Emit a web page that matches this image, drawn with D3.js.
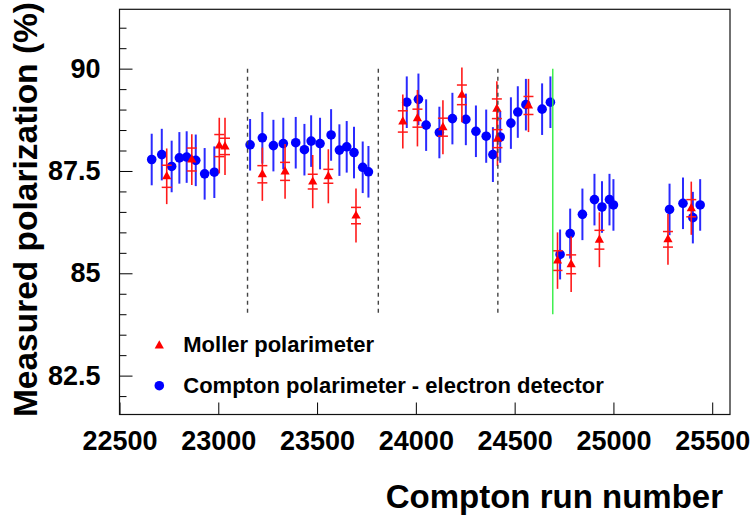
<!DOCTYPE html>
<html>
<head>
<meta charset="utf-8">
<script src="https://cdn.jsdelivr.net/npm/d3@7"></script>
<style>
  html, body { margin: 0; padding: 0; background: #fff; }
  svg { display: block; }
  text { font-family: "Liberation Sans", Arial, Helvetica, sans-serif; font-weight: bold; fill: #000; }
</style>
</head>
<body>
<svg id="chart" width="752" height="515"></svg>
<script>
// Compton polarimeter (electron detector) measurements
const comptonRuns = [22663, 22714, 22764, 22803, 22840, 22886, 22931, 22980,
  23161, 23223, 23279, 23329, 23392, 23436, 23470, 23515, 23571, 23613, 23650, 23687, 23731, 23760,
  23954, 24013, 24052, 24119, 24185, 24253, 24304, 24356, 24390, 24427, 24481, 24516, 24557, 24639, 24681,
  24730, 24781, 24843, 24904, 24942, 24980, 25000,
  25284, 25352, 25402, 25439];
const comptonPol = [87.78, 87.90, 87.61, 87.82, 87.84, 87.76, 87.43, 87.47,
  88.14, 88.31, 88.12, 88.17, 88.19, 88.02, 88.23, 88.17, 88.38, 88.01, 88.09, 87.95, 87.59, 87.48,
  89.18, 89.25, 88.62, 88.44, 88.78, 88.76, 88.47, 88.35, 87.90, 88.33, 88.67, 88.94, 89.12, 89.01, 89.18,
  85.46, 85.97, 86.44, 86.80, 86.62, 86.80, 86.67,
  86.56, 86.71, 86.36, 86.67];
const comptonErr = [0.63, 0.63, 0.63, 0.63, 0.63, 0.63, 0.63, 0.63,
  0.63, 0.63, 0.63, 0.63, 0.63, 0.63, 0.63, 0.63, 0.63, 0.63, 0.63, 0.63, 0.63, 0.63,
  0.63, 0.63, 0.63, 0.63, 0.63, 0.63, 0.63, 0.65, 0.67, 0.63, 0.63, 0.63, 0.63, 0.63, 0.63,
  0.61, 0.61, 0.63, 0.63, 0.63, 0.63, 0.63,
  0.63, 0.63, 0.63, 0.63];

// Moller polarimeter measurements: total and statistical errors
const mollerRuns = [22739, 22866, 23005, 23034,
  23223, 23338, 23478, 23557, 23697,
  23934, 24008, 24137, 24233, 24410, 24413, 24570,
  24717, 24786, 24929,
  25276, 25394];
const mollerPol = [87.37, 87.78, 88.12, 88.10,
  87.42, 87.49, 87.24, 87.37, 86.41,
  88.71, 88.79, 88.57, 89.36, 89.02, 88.29, 89.10,
  85.31, 85.22, 85.82,
  85.83, 86.59];
const mollerErrTot = [0.68, 0.62, 0.68, 0.70,
  0.65, 0.67, 0.65, 0.66, 0.66,
  0.66, 0.69, 0.66, 0.67, 0.67, 0.67, 0.65,
  0.69, 0.68, 0.67,
  0.62, 0.65];
const mollerErrStat = [0.27, 0.28, 0.27, 0.20,
  0.21, 0.22, 0.18, 0.17, 0.20,
  0.26, 0.22, 0.22, 0.24, 0.24, 0.22, 0.22,
  0.24, 0.23, 0.23,
  0.19, 0.21];

// Run-period boundaries and the vertical span they cover
const boundaryRuns = [23148, 23810, 24415];
const markerRun = [24693];
const boundarySpan = [84.0, 90.0];

const xTicks = [22500, 23000, 23500, 24000, 24500, 25000, 25500];
const yTicks = [82.5, 85, 87.5, 90];
const yMinorTicks = [82, 83, 83.5, 84, 84.5, 85.5, 86, 86.5, 87,
  88, 88.5, 89, 89.5, 90.5, 91];

const legendLabels = ["Moller polarimeter", "Compton polarimeter - electron detector"];
const xTitle = "Compton run number";
const yTitle = "Measured polarization (%)";

const svg = d3.select("#chart");
const frame = { left: 119.5, right: 730, top: 9.3, bottom: 414.5 };

const x = d3.scaleLinear().domain([22500, 25590]).range([frame.left, frame.right]);
const y = d3.scaleLinear().domain([81.55, 91.45]).range([frame.bottom, frame.top]);

const compton = comptonRuns.map((r, i) => ({ run: r, pol: comptonPol[i], err: comptonErr[i] }));
const moller = mollerRuns.map((r, i) => ({ run: r, pol: mollerPol[i], tot: mollerErrTot[i], stat: mollerErrStat[i] }));

// Axes with inward ticks
const yAxis = d3.axisLeft(y).tickValues(yTicks).tickSize(-13).tickPadding(19)
  .tickFormat(d3.format(""));
const yMinor = d3.axisLeft(y).tickValues(yMinorTicks).tickSize(-7).tickFormat("");
const xAxis = d3.axisBottom(x).tickValues(xTicks).tickSize(-12).tickPadding(16)
  .tickFormat(d3.format("d"));

function styleAxis(g) {
  g.select(".domain").remove();
  g.selectAll(".tick line").attr("stroke", "#000").attr("stroke-width", 1);
  g.selectAll(".tick text").attr("font-size", 27).attr("font-weight", "bold")
    .attr("font-family", "Liberation Sans, Arial, sans-serif").attr("fill", "#000");
}

svg.append("g").attr("transform", `translate(${frame.left},0)`).call(yMinor).call(styleAxis);
svg.append("g").attr("transform", `translate(${frame.left},0)`).call(yAxis).call(styleAxis);
svg.append("g").attr("transform", `translate(0,${frame.bottom})`).call(xAxis).call(styleAxis);

// Frame
svg.append("rect")
  .attr("x", frame.left).attr("y", frame.top)
  .attr("width", frame.right - frame.left).attr("height", frame.bottom - frame.top)
  .attr("fill", "none").attr("stroke", "#111").attr("stroke-width", 1.2);

// Compton points with error bars
const cg = svg.append("g");
cg.selectAll("line.cerr").data(compton).join("line")
  .attr("class", "cerr")
  .attr("x1", d => x(d.run)).attr("x2", d => x(d.run))
  .attr("y1", d => y(d.pol + d.err)).attr("y2", d => y(d.pol - d.err))
  .attr("stroke", "#2a2aff").attr("stroke-width", 2);
cg.selectAll("circle").data(compton).join("circle")
  .attr("cx", d => x(d.run)).attr("cy", d => y(d.pol)).attr("r", 4.8)
  .attr("fill", "#0000ff");

// Moller points: total error bar, statistical error ticks, triangle marker
const tri = "M0,-5.2L4.6,3L-4.6,3Z";
const mg = svg.append("g");
mg.selectAll("line.mtot").data(moller).join("line")
  .attr("class", "mtot")
  .attr("x1", d => x(d.run)).attr("x2", d => x(d.run))
  .attr("y1", d => y(d.pol + d.tot)).attr("y2", d => y(d.pol - d.tot))
  .attr("stroke", "#ff1a1a").attr("stroke-width", 1.6);
[1, -1].forEach(sign => {
  const cls = sign > 0 ? "splus" : "smin";
  mg.selectAll("line." + cls).data(moller).join("line")
    .attr("class", cls)
    .attr("x1", d => x(d.run) - 5).attr("x2", d => x(d.run) + 5)
    .attr("y1", d => y(d.pol + sign * d.stat))
    .attr("y2", d => y(d.pol + sign * d.stat))
    .attr("stroke", "#ff1a1a").attr("stroke-width", 1.5);
});
mg.selectAll("path").data(moller).join("path")
  .attr("d", tri)
  .attr("transform", d => `translate(${x(d.run)},${y(d.pol)})`)
  .attr("fill", "#ff0000");

// Vertical period markers
svg.append("g").selectAll("line").data(boundaryRuns).join("line")
  .attr("x1", d => x(d)).attr("x2", d => x(d))
  .attr("y1", y(boundarySpan[1])).attr("y2", y(boundarySpan[0]))
  .attr("stroke", "#444").attr("stroke-width", 1.4).attr("stroke-dasharray", "4,4");
svg.append("g").selectAll("line").data(markerRun).join("line")
  .attr("x1", d => x(d)).attr("x2", d => x(d))
  .attr("y1", y(boundarySpan[1])).attr("y2", y(boundarySpan[0]))
  .attr("stroke", "#33ee44").attr("stroke-width", 1.4);

// Legend
const lg = svg.append("g");
lg.append("path").attr("d", tri).attr("transform", "translate(159.3,345.5)").attr("fill", "#ff0000");
lg.append("circle").attr("cx", 159.3).attr("cy", 385.7).attr("r", 4.8).attr("fill", "#0000ff");
lg.append("text").attr("x", 183.3).attr("y", 352).attr("font-size", 22).text(legendLabels[0]);
lg.append("text").attr("x", 183.3).attr("y", 393).attr("font-size", 22).text(legendLabels[1]);

// Axis titles
svg.append("text").attr("x", 723).attr("y", 508).attr("text-anchor", "end")
  .attr("font-size", 33).text(xTitle);
svg.append("text").attr("transform", "translate(37,2) rotate(-90)").attr("text-anchor", "end")
  .attr("font-size", 33.5).text(yTitle);
</script>
</body>
</html>
